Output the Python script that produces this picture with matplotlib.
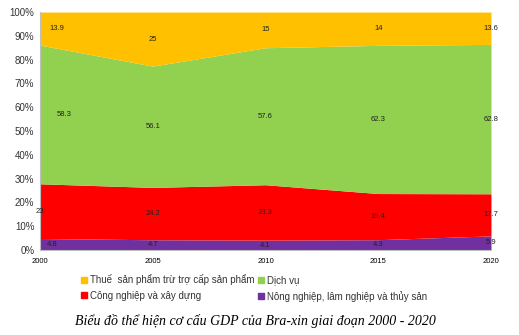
import matplotlib.pyplot as plt
from matplotlib.lines import Line2D
import numpy as np

# Data (% of GDP)
years = [2000, 2005, 2010, 2015, 2020]
nong_nghiep = [4.8, 4.7, 4.1, 4.3, 5.9]
cong_nghiep = [23, 24.2, 23.3, 19.4, 17.7]
dich_vu = [58.3, 56.1, 57.6, 62.3, 62.8]
thue = [13.9, 25, 15, 14, 13.6]

names = ['Nông nghiệp, lâm nghiệp và thủy sản', 'Công nghiệp và xây dựng',
         'Dịch vụ', 'Thuế  sản phẩm trừ trợ cấp sản phẩm']
colors = ['#7030A0', '#FF0000', '#92D050', '#FFC000']

plt.rcParams['font.family'] = ['Liberation Sans', 'DejaVu Sans']

series = np.array([nong_nghiep, cong_nghiep, dich_vu, thue], dtype=float)
# 100% stacked: normalise each year
pct = series / series.sum(axis=0) * 100
tops = np.cumsum(pct, axis=0)
bottoms = tops - pct

fig = plt.figure(figsize=(5.19, 3.35), dpi=100)
ax = fig.add_axes([0.077, 0.254, 0.869, 0.71])

for i in range(4):
    ax.fill_between(years, bottoms[i], tops[i], color=colors[i], linewidth=0)

# data labels in the middle of each band; first-year labels nudged right (pixels)
first_shift_px = [12, 0, 24, 17]
px_to_year = 20 / 451
for i in range(4):
    for j, yr in enumerate(years):
        xpos = yr + (first_shift_px[i] * px_to_year if j == 0 else 0)
        ax.text(xpos, (bottoms[i][j] + tops[i][j]) / 2, f'{series[i][j]:g}',
                ha='center', va='center', fontsize=5.5, color='#222222')

ax.set_xlim(2000, 2020)
ax.set_ylim(0, 100)
ax.set_xticks(years)
ax.set_xticklabels([str(y) for y in years], fontsize=5.5)
ax.set_yticks(range(0, 101, 10))
ax.set_yticklabels([f'{v}%' for v in range(0, 101, 10)], fontsize=7, color='#333333')
ax.tick_params(length=0, pad=4)
ax.tick_params(axis='x', pad=6)
for s in ['top', 'right']:
    ax.spines[s].set_visible(False)
for s in ['left', 'bottom']:
    ax.spines[s].set_color('#BFBFBF')
    ax.spines[s].set_linewidth(0.8)

# legend, filled row by row
order = [3, 1, 2, 0]
handles = [Line2D([], [], marker='s', linestyle='', markersize=4,
                  markerfacecolor=colors[k], markeredgecolor=colors[k]) for k in order]
fig.legend(handles, [names[k] for k in order], ncol=2, loc='center',
           bbox_to_anchor=(0.49, 0.14), frameon=False, fontsize=7,
           handlelength=0.6, handletextpad=0.3, columnspacing=0.4,
           labelspacing=0.55, labelcolor='#333333')

fig.text(0.492, 0.042, 'Biểu đồ thể hiện cơ cấu GDP của Bra-xin giai đoạn 2000 - 2020',
         ha='center', va='center', fontsize=10, style='italic',
         family='Liberation Serif')

fig.savefig('out.png', dpi=100)
